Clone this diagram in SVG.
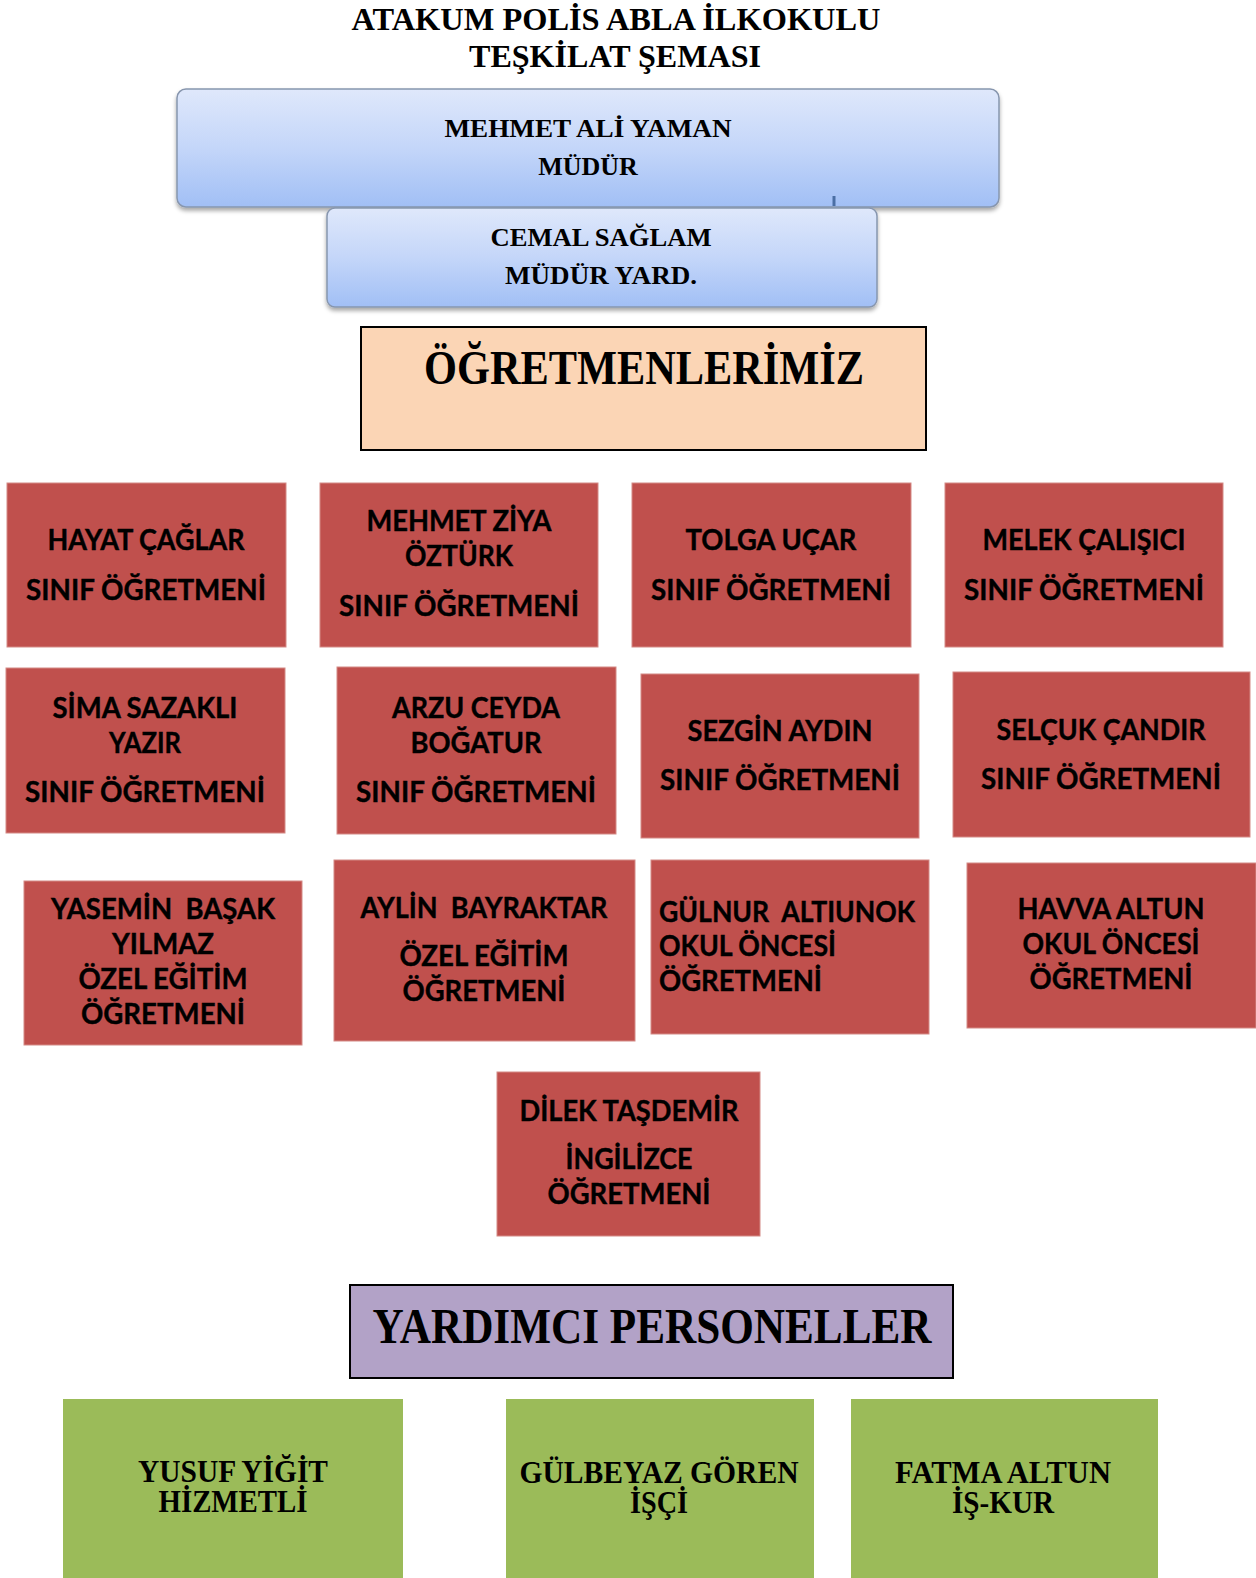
<svg xmlns="http://www.w3.org/2000/svg" width="1256" height="1578" viewBox="0 0 1256 1578">
<defs>
<linearGradient id="blueGrad" x1="0" y1="0" x2="0" y2="1">
<stop offset="0" stop-color="#dfe8fb"/>
<stop offset="0.5" stop-color="#c4d6f9"/>
<stop offset="1" stop-color="#a1bff5"/>
</linearGradient>
<filter id="shadow" x="-5%" y="-10%" width="110%" height="130%">
<feDropShadow dx="0" dy="3" stdDeviation="2" flood-color="#000" flood-opacity="0.35"/>
</filter>
</defs>
<style>
.title{font-family:"Liberation Serif","Times New Roman",serif;font-weight:bold;font-size:32px;fill:#000;text-anchor:middle}
.blue{fill:url(#blueGrad);stroke:#8796ae;stroke-width:1.5;filter:url(#shadow)}
.bt{font-family:"Liberation Serif","Times New Roman",serif;font-weight:bold;font-size:26px;fill:#000;text-anchor:middle}
.red{fill:#c0504d;stroke:#d48a86;stroke-width:1}
.rt{font-family:Lato,"Open Sans","DejaVu Sans",sans-serif;font-weight:bold;font-size:29px;fill:#000;text-anchor:middle;white-space:pre;stroke:#000;stroke-width:0.4}
.rl{text-anchor:start}
.head{font-family:"Liberation Serif","Times New Roman",serif;font-weight:bold;fill:#000;text-anchor:middle}
.green{fill:#9bbb59}
.gt{font-family:"Liberation Serif","Times New Roman",serif;font-weight:bold;font-size:31px;fill:#000;text-anchor:middle}
</style>

<g id="title">
<text class="title" x="616" y="30" textLength="529" lengthAdjust="spacingAndGlyphs">ATAKUM POLİS ABLA İLKOKULU</text>
<text class="title" x="615" y="67" textLength="292" lengthAdjust="spacingAndGlyphs">TEŞKİLAT ŞEMASI</text>
</g>

<g id="node-mudur">
<rect class="blue" x="177" y="89" width="822" height="118" rx="9"/>
<text class="bt" x="588" y="137" textLength="287" lengthAdjust="spacingAndGlyphs">MEHMET ALİ YAMAN</text>
<text class="bt" x="588" y="175">MÜDÜR</text>
</g>

<g id="node-mudur-yard">
<rect class="blue" x="327" y="208" width="550" height="99" rx="8"/>
<text class="bt" x="601" y="246" textLength="221" lengthAdjust="spacingAndGlyphs">CEMAL SAĞLAM</text>
<text class="bt" x="601" y="284" textLength="192" lengthAdjust="spacingAndGlyphs">MÜDÜR YARD.</text>
</g>

<g id="node-ogretmenlerimiz">
<rect x="361" y="327" width="565" height="123" fill="#fbd5b5" stroke="#000" stroke-width="2"/>
<text class="head" x="644" y="384" font-size="49" textLength="440" lengthAdjust="spacingAndGlyphs">ÖĞRETMENLERİMİZ</text>
</g>

<g id="node-hayat">
<rect class="red" x="7" y="483" width="279" height="164"/>
<text class="rt" x="146" y="550" textLength="197" lengthAdjust="spacingAndGlyphs">HAYAT ÇAĞLAR</text>
<text class="rt" x="146" y="600" textLength="240" lengthAdjust="spacingAndGlyphs">SINIF ÖĞRETMENİ</text>
</g>

<g id="node-mehmet-ziya">
<rect class="red" x="320" y="483" width="278" height="164"/>
<text class="rt" x="459" y="531" textLength="185" lengthAdjust="spacingAndGlyphs">MEHMET ZİYA</text>
<text class="rt" x="459" y="566" textLength="108" lengthAdjust="spacingAndGlyphs">ÖZTÜRK</text>
<text class="rt" x="459" y="616" textLength="240" lengthAdjust="spacingAndGlyphs">SINIF ÖĞRETMENİ</text>
</g>

<g id="node-tolga">
<rect class="red" x="632" y="483" width="279" height="164"/>
<text class="rt" x="771" y="550" textLength="171" lengthAdjust="spacingAndGlyphs">TOLGA UÇAR</text>
<text class="rt" x="771" y="600" textLength="240" lengthAdjust="spacingAndGlyphs">SINIF ÖĞRETMENİ</text>
</g>

<g id="node-melek">
<rect class="red" x="945" y="483" width="278" height="164"/>
<text class="rt" x="1084" y="550" textLength="203" lengthAdjust="spacingAndGlyphs">MELEK ÇALIŞICI</text>
<text class="rt" x="1084" y="600" textLength="240" lengthAdjust="spacingAndGlyphs">SINIF ÖĞRETMENİ</text>
</g>

<g id="node-sima">
<rect class="red" x="6" y="668" width="279" height="165"/>
<text class="rt" x="145" y="718" textLength="185" lengthAdjust="spacingAndGlyphs">SİMA SAZAKLI</text>
<text class="rt" x="145" y="753" textLength="72" lengthAdjust="spacingAndGlyphs">YAZIR</text>
<text class="rt" x="145" y="802" textLength="240" lengthAdjust="spacingAndGlyphs">SINIF ÖĞRETMENİ</text>
</g>

<g id="node-arzu">
<rect class="red" x="337" y="667" width="279" height="167"/>
<text class="rt" x="476" y="718" textLength="168" lengthAdjust="spacingAndGlyphs">ARZU CEYDA</text>
<text class="rt" x="476" y="753" textLength="131" lengthAdjust="spacingAndGlyphs">BOĞATUR</text>
<text class="rt" x="476" y="802" textLength="240" lengthAdjust="spacingAndGlyphs">SINIF ÖĞRETMENİ</text>
</g>

<g id="node-sezgin">
<rect class="red" x="641" y="674" width="278" height="164"/>
<text class="rt" x="780" y="741" textLength="185" lengthAdjust="spacingAndGlyphs">SEZGİN AYDIN</text>
<text class="rt" x="780" y="790" textLength="240" lengthAdjust="spacingAndGlyphs">SINIF ÖĞRETMENİ</text>
</g>

<g id="node-selcuk">
<rect class="red" x="953" y="672" width="297" height="165"/>
<text class="rt" x="1101" y="740" textLength="209" lengthAdjust="spacingAndGlyphs">SELÇUK ÇANDIR</text>
<text class="rt" x="1101" y="789" textLength="240" lengthAdjust="spacingAndGlyphs">SINIF ÖĞRETMENİ</text>
</g>

<g id="node-yasemin">
<rect class="red" x="24" y="881" width="278" height="164"/>
<text class="rt" x="163" y="919" textLength="224" lengthAdjust="spacingAndGlyphs">YASEMİN  BAŞAK</text>
<text class="rt" x="163" y="954" textLength="102" lengthAdjust="spacingAndGlyphs">YILMAZ</text>
<text class="rt" x="163" y="989" textLength="169" lengthAdjust="spacingAndGlyphs">ÖZEL EĞİTİM</text>
<text class="rt" x="163" y="1024" textLength="164" lengthAdjust="spacingAndGlyphs">ÖĞRETMENİ</text>
</g>

<g id="node-aylin">
<rect class="red" x="334" y="860" width="301" height="181"/>
<text class="rt" x="484" y="918" textLength="247" lengthAdjust="spacingAndGlyphs">AYLİN  BAYRAKTAR</text>
<text class="rt" x="484" y="966" textLength="169" lengthAdjust="spacingAndGlyphs">ÖZEL EĞİTİM</text>
<text class="rt" x="484" y="1001" textLength="163" lengthAdjust="spacingAndGlyphs">ÖĞRETMENİ</text>
</g>

<g id="node-gulnur">
<rect class="red" x="651" y="860" width="278" height="174"/>
<text class="rt rl" x="659" y="922" textLength="256" lengthAdjust="spacingAndGlyphs">GÜLNUR  ALTIUNOK</text>
<text class="rt rl" x="659" y="956" textLength="177" lengthAdjust="spacingAndGlyphs">OKUL ÖNCESİ</text>
<text class="rt rl" x="659" y="991" textLength="163" lengthAdjust="spacingAndGlyphs">ÖĞRETMENİ</text>
</g>

<g id="node-havva">
<rect class="red" x="967" y="863" width="289" height="165"/>
<text class="rt" x="1111" y="919" textLength="187" lengthAdjust="spacingAndGlyphs">HAVVA ALTUN</text>
<text class="rt" x="1111" y="954" textLength="177" lengthAdjust="spacingAndGlyphs">OKUL ÖNCESİ</text>
<text class="rt" x="1111" y="989" textLength="163" lengthAdjust="spacingAndGlyphs">ÖĞRETMENİ</text>
</g>

<g id="node-dilek">
<rect class="red" x="497" y="1072" width="263" height="164"/>
<text class="rt" x="629" y="1121" textLength="219" lengthAdjust="spacingAndGlyphs">DİLEK TAŞDEMİR</text>
<text class="rt" x="629" y="1169" textLength="127" lengthAdjust="spacingAndGlyphs">İNGİLİZCE</text>
<text class="rt" x="629" y="1204" textLength="163" lengthAdjust="spacingAndGlyphs">ÖĞRETMENİ</text>
</g>

<g id="node-yardimci">
<rect x="350" y="1285" width="603" height="93" fill="#b2a2c7" stroke="#000" stroke-width="2"/>
<text class="head" x="652" y="1343" font-size="50" textLength="559" lengthAdjust="spacingAndGlyphs">YARDIMCI PERSONELLER</text>
</g>

<g id="node-yusuf">
<rect class="green" x="63" y="1399" width="340" height="179"/>
<text class="gt" x="233" y="1482" textLength="190" lengthAdjust="spacingAndGlyphs">YUSUF YİĞİT</text>
<text class="gt" x="233" y="1512" textLength="149" lengthAdjust="spacingAndGlyphs">HİZMETLİ</text>
</g>

<g id="node-gulbeyaz">
<rect class="green" x="506" y="1399" width="308" height="179"/>
<text class="gt" x="659" y="1483" textLength="279" lengthAdjust="spacingAndGlyphs">GÜLBEYAZ GÖREN</text>
<text class="gt" x="659" y="1513" textLength="58" lengthAdjust="spacingAndGlyphs">İŞÇİ</text>
</g>

<g id="node-fatma">
<rect class="green" x="851" y="1399" width="307" height="179"/>
<text class="gt" x="1003" y="1483" textLength="216" lengthAdjust="spacingAndGlyphs">FATMA ALTUN</text>
<text class="gt" x="1003" y="1513" textLength="102" lengthAdjust="spacingAndGlyphs">İŞ-KUR</text>
</g>

<g id="connectors">
<line x1="834" y1="196" x2="834" y2="206" stroke="#4a6ea4" stroke-width="3"/>
</g>
</svg>
